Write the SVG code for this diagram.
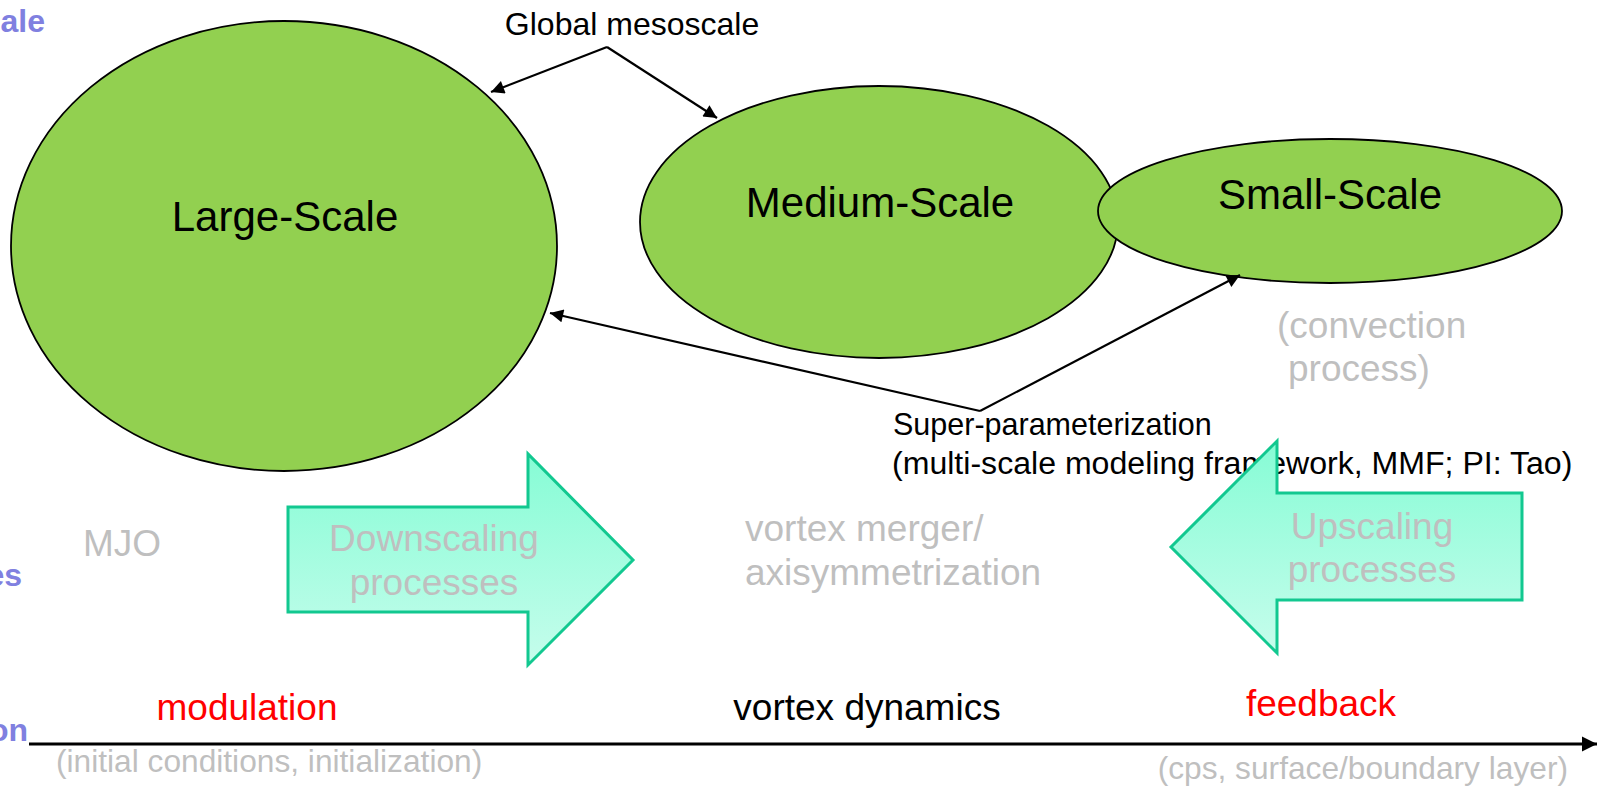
<svg xmlns="http://www.w3.org/2000/svg" width="1607" height="787" viewBox="0 0 1607 787">
<style>
  text { font-family: "Liberation Sans", Arial, sans-serif; }
  .node { fill: #92D050; stroke: #000; stroke-width: 1.8; }
  .big { font-size: 42px; fill: #000; text-anchor: middle; }
  .lbl { font-size: 30.5px; fill: #000; }
  .gray { font-size: 37px; fill: #BFBFBF; }
  .gray-s { font-size: 31.7px; fill: #BFBFBF; }
  .red { font-size: 37px; fill: #FF0000; text-anchor: middle; }
  .blk { font-size: 37px; fill: #000; text-anchor: middle; }
  .side { font-size: 32px; font-weight: bold; fill: #8080E0; text-anchor: end; }
  .conn { stroke: #000; stroke-width: 2.2; fill: none; marker-end: url(#ah); }
  .block { fill: url(#bg); stroke: #12C890; stroke-width: 3; }
</style>
<defs>
  <marker id="ah" viewBox="0 0 10 10" refX="10" refY="5" markerWidth="7.5" markerHeight="6" markerUnits="strokeWidth" orient="auto">
    <path d="M0,0 L10,5 L0,10 z" fill="#000"/>
  </marker>
  <marker id="axh" viewBox="0 0 10 10" refX="10" refY="5" markerWidth="5.5" markerHeight="5.5" markerUnits="strokeWidth" orient="auto">
    <path d="M0,0 L10,5 L0,10 z" fill="#000"/>
  </marker>
  <linearGradient id="bg" x1="0" y1="0" x2="0" y2="1">
    <stop offset="0" stop-color="#86FCD5"/>
    <stop offset="1" stop-color="#C6FDEC"/>
  </linearGradient>
</defs>

<rect width="1607" height="787" fill="#fff"/>

<!-- side labels -->
<text class="side" x="45" y="32">ale</text>
<text class="side" x="22" y="586">es</text>
<text class="side" x="28" y="741">on</text>

<g id="large-scale">
  <ellipse class="node" cx="284" cy="246" rx="273" ry="225"/>
  <text class="big" x="285" y="231">Large-Scale</text>
</g>
<g id="medium-scale">
  <ellipse class="node" cx="879" cy="222" rx="239" ry="136"/>
  <text class="big" x="880" y="217">Medium-Scale</text>
</g>
<g id="small-scale">
  <ellipse class="node" cx="1330" cy="211" rx="232" ry="72"/>
  <text class="big" x="1330" y="209">Small-Scale</text>
</g>

<g id="connectors">
  <line class="conn" x1="607" y1="47" x2="491" y2="92"/>
  <line class="conn" x1="607" y1="47" x2="717" y2="118"/>
  <line class="conn" x1="980" y1="411" x2="550" y2="313"/>
  <line class="conn" x1="980" y1="411" x2="1240" y2="275"/>
  <line stroke="#000" stroke-width="2.8" x1="29" y1="744" x2="1597" y2="744" marker-end="url(#axh)"/>
</g>

<g id="global-mesoscale">
  <text class="lbl" x="632" y="35" text-anchor="middle" style="font-size:32px">Global mesoscale</text>
</g>

<g id="convection">
  <text class="gray" x="1277" y="338">(convection</text>
  <text class="gray" x="1288" y="381">process)</text>
</g>

<g id="super-parameterization">
  <text class="lbl" x="893" y="435">Super-parameterization</text>
  <text class="lbl" x="892" y="474" style="font-size:32.1px">(multi-scale modeling framework, MMF; PI: Tao)</text>
</g>

<g id="mjo">
  <text class="gray" x="83" y="556">MJO</text>
</g>

<g id="downscaling">
  <path class="block" d="M288,507 L528,507 L528,454 L633,560 L528,665 L528,612 L288,612 Z"/>
  <text class="gray" x="434" y="551" text-anchor="middle">Downscaling</text>
  <text class="gray" x="434" y="595" text-anchor="middle">processes</text>
</g>

<g id="vortex-merger">
  <text class="gray" x="745" y="541">vortex merger/</text>
  <text class="gray" x="745" y="585">axisymmetrization</text>
</g>

<g id="upscaling">
  <path class="block" d="M1522,493 L1277,493 L1277,441 L1171,547 L1277,653 L1277,600 L1522,600 Z"/>
  <text class="gray" x="1372" y="539" text-anchor="middle">Upscaling</text>
  <text class="gray" x="1372" y="582" text-anchor="middle">processes</text>
</g>

<g id="axis-labels">
  <text class="red" x="247" y="720">modulation</text>
  <text class="blk" x="867" y="720">vortex dynamics</text>
  <text class="red" x="1321" y="716">feedback</text>
  <text class="gray-s" x="56" y="772">(initial conditions, initialization)</text>
  <text class="gray-s" x="1568" y="779" text-anchor="end">(cps, surface/boundary layer)</text>
</g>
</svg>
